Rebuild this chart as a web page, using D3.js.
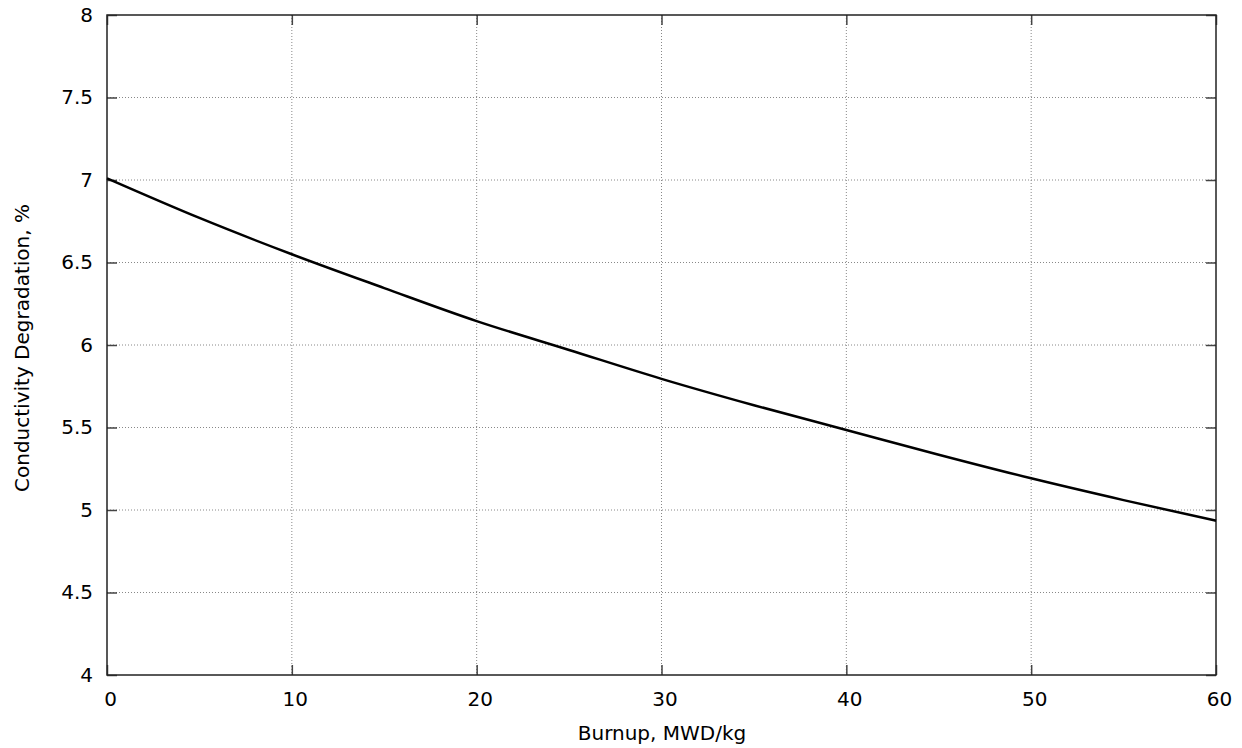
<!DOCTYPE html>
<html>
<head>
<meta charset="utf-8">
<script src="https://cdn.jsdelivr.net/npm/d3@7"></script>
<style>
  body { margin: 0; background: #fff; }
  text { font-family: "DejaVu Sans", sans-serif; fill: #000; }
</style>
</head>
<body>
<div id="plotDiv"></div>
<script>
// burnup (MWD/kg) and conductivity degradation (%)
const burnup = [0, 5, 10, 15, 20, 25, 30, 35, 40, 45, 50, 55, 60];
const degradation = [7.01, 6.77, 6.55, 6.345, 6.145, 5.97, 5.795, 5.635, 5.485, 5.335, 5.192, 5.06, 4.935];
const xTicks = [0, 10, 20, 30, 40, 50, 60];
const yTicks = [4, 4.5, 5, 5.5, 6, 6.5, 7, 7.5, 8];

const W = 1242, H = 748;
const m = {top: 15, right: 26, bottom: 73, left: 107};
const w = W - m.left - m.right;
const h = H - m.top - m.bottom;

const svg = d3.select("#plotDiv").append("svg")
  .attr("width", W).attr("height", H);
const g = svg.append("g").attr("transform", `translate(${m.left},${m.top})`);

const x = d3.scaleLinear().domain([0, 60]).range([0, w]);
const y = d3.scaleLinear().domain([4, 8]).range([h, 0]);

// grid (dotted)
g.append("g").selectAll("line").data(xTicks.slice(1, -1)).enter().append("line")
  .attr("x1", d => x(d)).attr("x2", d => x(d)).attr("y1", 0).attr("y2", h)
  .attr("stroke", "#888").attr("stroke-width", 1).attr("stroke-dasharray", "1,2");
g.append("g").selectAll("line").data(yTicks.slice(1, -1)).enter().append("line")
  .attr("y1", d => y(d)).attr("y2", d => y(d)).attr("x1", 0).attr("x2", w)
  .attr("stroke", "#888").attr("stroke-width", 1).attr("stroke-dasharray", "1,2");

// axes: ticks pointing inward, mirrored on top and right
const fmt = d => d3.format("")(d);
const axB = g.append("g").attr("transform", `translate(0,${h})`)
  .call(d3.axisBottom(x).tickValues(xTicks).tickSize(-10).tickPadding(17).tickFormat(fmt));
const axT = g.append("g")
  .call(d3.axisTop(x).tickValues(xTicks).tickSize(-10).tickFormat(""));
const axL = g.append("g")
  .call(d3.axisLeft(y).tickValues(yTicks).tickSize(-10).tickPadding(14).tickFormat(fmt));
const axR = g.append("g").attr("transform", `translate(${w},0)`)
  .call(d3.axisRight(y).tickValues(yTicks).tickSize(-10).tickFormat(""));

[axB, axT, axL, axR].forEach(a => {
  a.select(".domain").remove();
  a.selectAll(".tick line").attr("stroke", "#444").attr("stroke-width", 1.5);
  a.selectAll("text").style("font-size", "20px").attr("font-family", "DejaVu Sans");
});
axB.selectAll("text").attr("dx", 3);

// frame
g.append("rect").attr("width", w).attr("height", h)
  .attr("fill", "none").attr("stroke", "#222").attr("stroke-width", 1.5);

// curve
const line = d3.line().x((d, i) => x(burnup[i])).y(d => y(d)).curve(d3.curveMonotoneX);
g.append("path").datum(degradation)
  .attr("d", line).attr("fill", "none").attr("stroke", "#000").attr("stroke-width", 2.5);

// axis titles
svg.append("text").attr("x", 662).attr("y", 740)
  .attr("text-anchor", "middle").style("font-size", "20px").text("Burnup, MWD/kg");
svg.append("text").attr("transform", "translate(29,348) rotate(-90)")
  .attr("text-anchor", "middle").style("font-size", "20px").text("Conductivity Degradation, %");
</script>
</body>
</html>
